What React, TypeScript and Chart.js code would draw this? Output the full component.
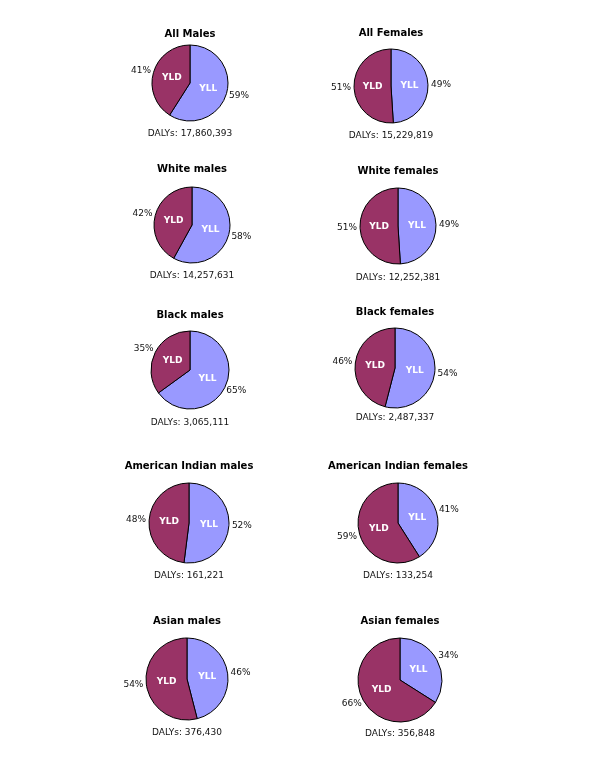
import React, { useEffect, useRef } from "react";
import { Chart, registerables } from "chart.js";

Chart.register(...registerables);

// ---- data ----
const categories = ["YLL", "YLD"];
const groupTitles = [
  "All Males",
  "All Females",
  "White males",
  "White females",
  "Black males",
  "Black females",
  "American Indian males",
  "American Indian females",
  "Asian males",
  "Asian females",
];
const yllPercent = [59, 49, 58, 49, 65, 54, 52, 41, 46, 34];
const yldPercent = [41, 51, 42, 51, 35, 46, 48, 59, 54, 66];
const dalys = [
  17860393, 15229819, 14257631, 12252381, 3065111, 2487337, 161221, 133254,
  376430, 356848,
];

// ---- layout / style (not data) ----
const panelLayout = [
  { x: 190, y: 83, r: 38, t: 34, d: 133 },
  { x: 391, y: 86, r: 37, t: 33, d: 135 },
  { x: 192, y: 225, r: 38, t: 169, d: 275 },
  { x: 398, y: 226, r: 38, t: 171, d: 277 },
  { x: 190, y: 370, r: 39, t: 315, d: 422 },
  { x: 395, y: 368, r: 40, t: 312, d: 417 },
  { x: 189, y: 523, r: 40, t: 466, d: 575 },
  { x: 398, y: 523, r: 40, t: 466, d: 575 },
  { x: 187, y: 679, r: 41, t: 621, d: 732 },
  { x: 400, y: 680, r: 42, t: 621, d: 733 },
];
const sliceColors = ["#9999FF", "#993366"];
const FONT = "'DejaVu Sans', Verdana, sans-serif";
const PANEL_W = 220;

const sliceLabelPlugin = {
  id: "sliceLabels",
  afterDatasetsDraw(chart: any) {
    const ctx = chart.ctx;
    const meta = chart.getDatasetMeta(0);
    const ds = chart.data.datasets[0];
    ctx.save();
    ctx.textAlign = "center";
    ctx.textBaseline = "middle";
    meta.data.forEach((arc: any, i: number) => {
      const p = arc.getProps(
        ["x", "y", "startAngle", "endAngle", "outerRadius"],
        true
      );
      const mid = (p.startAngle + p.endAngle) / 2;
      const dx = Math.cos(mid);
      const dy = Math.sin(mid);
      // inside label
      ctx.font = `bold 9px ${FONT}`;
      ctx.fillStyle = "#ffffff";
      ctx.fillText(
        chart.data.labels[i],
        p.x + dx * p.outerRadius * 0.5,
        p.y + dy * p.outerRadius * 0.5
      );
      // outside percentage
      const txt = ds.data[i] + "%";
      ctx.font = `9px ${FONT}`;
      ctx.fillStyle = "#111111";
      const w = ctx.measureText(txt).width;
      const h = 9;
      const gap = p.outerRadius + 3;
      ctx.fillText(txt, p.x + dx * (gap + w / 2), p.y + dy * (gap + h / 2));
    });
    ctx.restore();
  },
};

function PiePanel({ index }: { index: number }) {
  const ref = useRef<HTMLCanvasElement | null>(null);
  const L = panelLayout[index];
  const top = L.t - 10;
  const height = L.d - L.t + 20;
  useEffect(() => {
    if (!ref.current) return;
    const diff = 2 * L.y - L.t - L.d - 1.2;
    const tb = diff >= 0 ? diff : 0;
    const st = diff < 0 ? -diff : 0;
    const chart = new Chart(ref.current, {
      type: "pie",
      data: {
        labels: categories,
        datasets: [
          {
            data: [yllPercent[index], yldPercent[index]],
            backgroundColor: sliceColors,
            borderColor: "#000000",
            borderWidth: 1,
            radius: L.r,
            clip: false,
          } as any,
        ],
      },
      options: {
        responsive: false,
        animation: false,
        events: [],
        layout: { padding: 0 },
        plugins: {
          legend: { display: false },
          tooltip: { enabled: false },
          title: {
            display: true,
            text: groupTitles[index],
            color: "#000000",
            font: { family: FONT, size: 10, weight: "bold" },
            padding: { top: 4, bottom: tb },
          },
          subtitle: {
            display: true,
            position: "bottom",
            text: "DALYs: " + dalys[index].toLocaleString("en-US"),
            color: "#111111",
            font: { family: FONT, size: 9, weight: "normal" },
            padding: { top: st, bottom: 4 },
          },
        },
      } as any,
      plugins: [sliceLabelPlugin],
    });
    return () => chart.destroy();
  }, [index]);
  return (
    <canvas
      ref={ref}
      width={PANEL_W}
      height={height}
      style={{
        position: "absolute",
        left: L.x - PANEL_W / 2,
        top,
        width: PANEL_W,
        height,
      }}
    />
  );
}

export default function App() {
  return (
    <div
      style={{
        position: "absolute",
        left: 0,
        top: 0,
        width: 600,
        height: 777,
        background: "#ffffff",
      }}
    >
      {groupTitles.map((_, i) => (
        <PiePanel key={i} index={i} />
      ))}
    </div>
  );
}
